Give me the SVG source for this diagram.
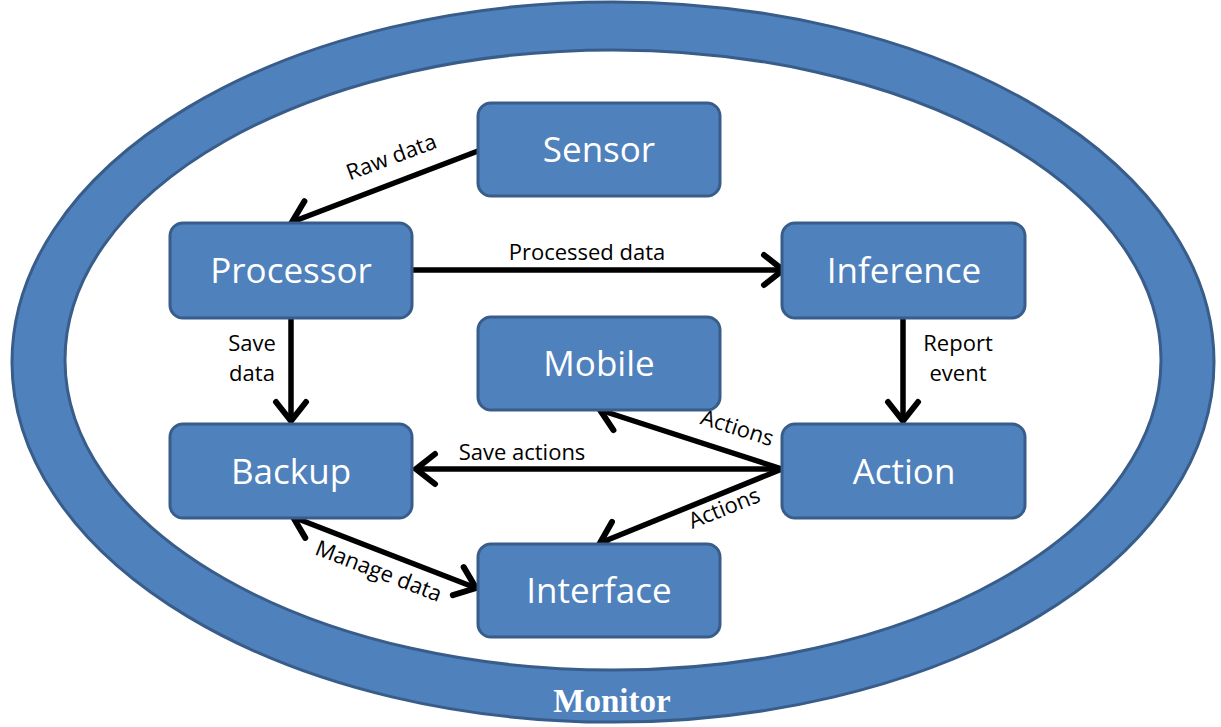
<svg xmlns="http://www.w3.org/2000/svg" width="1221" height="727" viewBox="0 0 1221 727">
  <defs>
    <marker id="chev" markerUnits="userSpaceOnUse" markerWidth="40" markerHeight="40" viewBox="-30 -20 40 40" refX="0" refY="0" orient="auto-start-reverse" overflow="visible">
      <path d="M-19,-15 L0,0 L-19,15" fill="none" stroke="#000" stroke-width="6" stroke-linecap="round" stroke-linejoin="miter"/>
    </marker>
  </defs>
  <style>
    .box { fill: #4F81BD; stroke: #385D8A; stroke-width: 3; }
    .ntext { fill: #fff; font-family: "Open Sans", "Liberation Sans", sans-serif; font-size: 35px; text-anchor: middle; }
    .edge { fill: none; stroke: #000; stroke-width: 5.5; marker-end: url(#chev); }
    .lbl { fill: #000; font-family: "Open Sans", "Liberation Sans", sans-serif; font-size: 22px; text-anchor: middle; }
  </style>
  <rect width="1221" height="727" fill="#fff"/>

  <!-- Monitor ring -->
  <g id="monitor">
    <path d="M12,362 A601,360 0 1,0 1214,362 A601,360 0 1,0 12,362 Z M65,360 A548,310 0 1,1 1161,360 A548,310 0 1,1 65,360 Z" fill="#4F81BD" fill-rule="evenodd" stroke="#385D8A" stroke-width="3"/>
    <text x="612" y="712" fill="#fff" font-family="Liberation Serif, serif" font-weight="bold" font-size="33" text-anchor="middle">Monitor</text>
  </g>

  <!-- connectors -->
  <g id="connectors">
    <line class="edge" x1="478" y1="151" x2="292" y2="222"/>
    <line class="edge" x1="412" y1="270" x2="783" y2="270"/>
    <line class="edge" x1="291" y1="318" x2="291" y2="421"/>
    <line class="edge" x1="903" y1="318" x2="903" y2="421"/>
    <line class="edge" x1="782" y1="469" x2="600" y2="410"/>
    <line class="edge" x1="782" y1="469" x2="416" y2="469"/>
    <line class="edge" x1="782" y1="469" x2="600" y2="543"/>
    <line class="edge" x1="293" y1="517" x2="476" y2="588" style="marker-start:url(#chev)"/>

    <text class="lbl" transform="translate(394,164) rotate(-20.6)">Raw data</text>
    <text class="lbl" x="587" y="260">Processed data</text>
    <text class="lbl" x="252" y="351">Save</text>
    <text class="lbl" x="252" y="381">data</text>
    <text class="lbl" x="958" y="351">Report</text>
    <text class="lbl" x="958" y="381">event</text>
    <text class="lbl" transform="translate(735,435) rotate(17.6)">Actions</text>
    <text class="lbl" x="522" y="460">Save actions</text>
    <text class="lbl" transform="translate(727,515) rotate(-21.9)">Actions</text>
    <text class="lbl" transform="translate(376,578) rotate(21.1)">Manage data</text>
  </g>

  <!-- nodes -->
  <g id="sensor">
    <rect class="box" x="478" y="103" width="242" height="93" rx="13"/>
    <text class="ntext" x="599" y="162">Sensor</text>
  </g>
  <g id="processor">
    <rect class="box" x="170" y="223" width="242" height="95" rx="13"/>
    <text class="ntext" x="291" y="283">Processor</text>
  </g>
  <g id="inference">
    <rect class="box" x="782" y="223" width="243" height="95" rx="13"/>
    <text class="ntext" x="904" y="283">Inference</text>
  </g>
  <g id="mobile">
    <rect class="box" x="478" y="317" width="242" height="93" rx="13"/>
    <text class="ntext" x="599" y="376">Mobile</text>
  </g>
  <g id="backup">
    <rect class="box" x="170" y="424" width="242" height="94" rx="13"/>
    <text class="ntext" x="291" y="484">Backup</text>
  </g>
  <g id="action">
    <rect class="box" x="782" y="424" width="243" height="94" rx="13"/>
    <text class="ntext" x="904" y="484">Action</text>
  </g>
  <g id="interface">
    <rect class="box" x="478" y="544" width="242" height="93" rx="13"/>
    <text class="ntext" x="599" y="603">Interface</text>
  </g>
</svg>
